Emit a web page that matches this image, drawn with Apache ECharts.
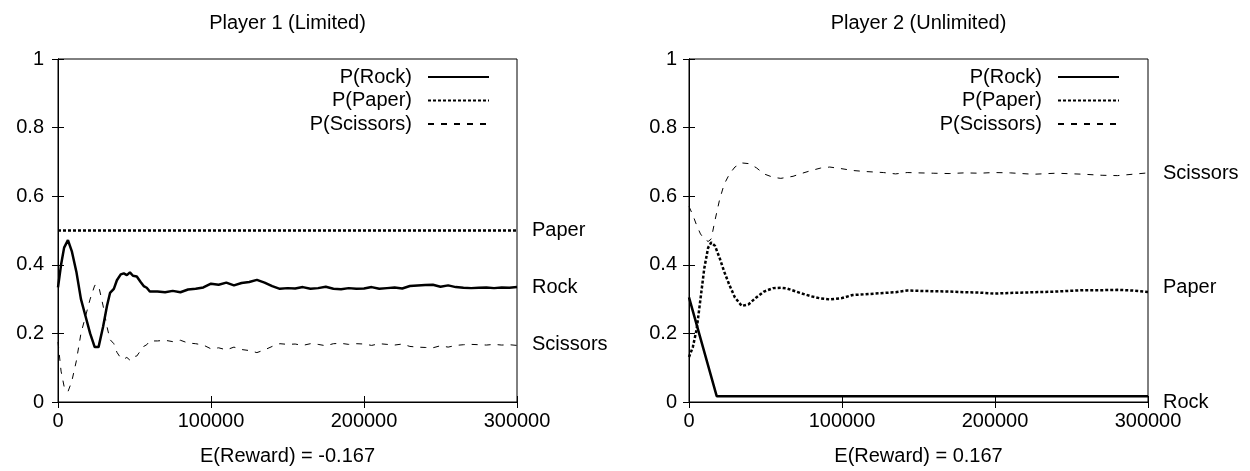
<!DOCTYPE html>
<html><head><meta charset="utf-8">
<script src="https://cdn.jsdelivr.net/npm/echarts@6/dist/echarts.min.js"></script>
<style>html,body{margin:0;padding:0;background:#fff}#c{width:1250px;height:471px}</style>
</head><body><div id="c"></div>
<script>
// ---------- data ----------
const seriesNames = ['P(Rock)', 'P(Paper)', 'P(Scissors)'];
const titles = ['Player 1 (Limited)', 'Player 2 (Unlimited)'];
const xTitles = ['E(Reward) = -0.167', 'E(Reward) = 0.167'];
const xTicks = [0, 100000, 200000, 300000];
const yTicks = [0, 0.2, 0.4, 0.6, 0.8, 1];

// Player 1
const p1X = [0,2000,4000,6500,9000,12000,15000,18000,21000,24000,26500,29500,32000,34000,36500,38500,41000,43000,45000,47000,49000,51500,54000,56000,58000,60000,
  65000,70000,75000,80000,85000,90000,95000,100000,105000,110000,115000,120000,125000,130000,135000,140000,145000,150000,155000,160000,165000,170000,175000,180000,
  185000,190000,195000,200000,205000,210000,215000,220000,225000,230000,235000,240000,245000,250000,255000,260000,265000,270000,275000,280000,285000,290000,295000,300000];
const p1Rock = [0.334,0.40,0.45,0.472,0.44,0.38,0.30,0.25,0.20,0.160,0.160,0.22,0.28,0.318,0.33,0.355,0.372,0.375,0.370,0.378,0.368,0.366,0.350,0.338,0.333,0.322,
  0.322,0.320,0.324,0.320,0.328,0.330,0.334,0.345,0.342,0.348,0.340,0.347,0.350,0.356,0.348,0.338,0.330,0.332,0.331,0.335,0.330,0.332,0.336,0.330,
  0.329,0.332,0.330,0.331,0.335,0.330,0.332,0.334,0.331,0.338,0.340,0.341,0.342,0.336,0.340,0.335,0.333,0.332,0.333,0.334,0.332,0.334,0.333,0.335];
const p1Scissors = [0.175,0.09,0.045,0.03,0.06,0.12,0.20,0.25,0.30,0.340,0.340,0.28,0.22,0.182,0.17,0.145,0.128,0.125,0.130,0.122,0.132,0.134,0.150,0.162,0.167,0.178,
  0.178,0.180,0.176,0.180,0.172,0.170,0.166,0.155,0.158,0.152,0.160,0.153,0.150,0.144,0.152,0.162,0.170,0.168,0.169,0.165,0.170,0.168,0.164,0.170,
  0.171,0.168,0.170,0.169,0.165,0.170,0.168,0.166,0.169,0.162,0.160,0.159,0.158,0.164,0.160,0.165,0.167,0.168,0.167,0.166,0.168,0.166,0.167,0.165];
const p1PaperX = [0, 300000];
const p1Paper = [0.5, 0.5];
const p1EndValues = [0.5, 0.333, 0.167];
const p1EndLabels = ['Paper', 'Rock', 'Scissors'];

// Player 2
const p2RockX = [0, 18100, 300000];
const p2Rock = [0.305, 0.017, 0.017];
const p2X = [0,2500,5000,7500,10000,12500,14500,17000,20000,23000,26500,30000,34500,39000,44000,49000,55000,60000,64000,68000,72600,80000,86000,92000,100000,
  107000,115000,127000,135000,142600,150000,160000,170000,180000,190000,199000,210000,225000,240000,258000,270000,280000,290000,300000];
const p2Paper = [0.131,0.16,0.212,0.30,0.39,0.45,0.465,0.455,0.42,0.38,0.34,0.305,0.28,0.285,0.305,0.322,0.332,0.333,0.331,0.325,0.318,0.308,0.302,0.299,0.303,
  0.312,0.314,0.318,0.32,0.325,0.324,0.323,0.322,0.32,0.319,0.316,0.318,0.32,0.322,0.326,0.326,0.327,0.325,0.321];
const p2Scissors = [0.57,0.545,0.515,0.49,0.475,0.468,0.475,0.53,0.59,0.635,0.665,0.685,0.697,0.695,0.683,0.665,0.655,0.652,0.655,0.658,0.665,0.675,0.682,0.685,0.68,
  0.675,0.672,0.669,0.665,0.669,0.668,0.667,0.666,0.668,0.667,0.669,0.668,0.664,0.667,0.664,0.661,0.66,0.664,0.668];
const p2EndValues = [0.667, 0.333, 0];
const p2EndLabels = ['Scissors', 'Paper', 'Rock'];

// ---------- chart ----------
const FONT = "'Liberation Sans', Arial, Helvetica, sans-serif";
const FS = 20;
const zip = (xs, ys) => xs.map((x, i) => [x, ys[i]]);
const styles = {
  'P(Rock)': { color: '#000', width: 2.5, type: 'solid' },
  'P(Paper)': { color: '#000', width: 2.5, type: [3, 2] },
  'P(Scissors)': { color: '#000', width: 1, type: [6, 7] }
};

const grids = [
  { left: 58, right: 733, top: 59, bottom: 68, show: true, borderColor: '#000', borderWidth: 1, backgroundColor: '#fff' },
  { left: 689, right: 102, top: 59, bottom: 68, show: true, borderColor: '#000', borderWidth: 1, backgroundColor: '#fff' }
];

function bottomX(g, name) {
  return {
    type: 'value', gridIndex: g, position: 'bottom', min: 0, max: 300000, interval: 100000,
    name: name, nameLocation: 'middle', nameGap: 44,
    nameTextStyle: { fontFamily: FONT, fontSize: FS, color: '#000' },
    axisLine: { show: true, lineStyle: { color: '#000', width: 1 } },
    axisTick: { show: true, inside: true, length: 6, customValues: xTicks, lineStyle: { color: '#000' } },
    axisLabel: { fontFamily: FONT, fontSize: FS, color: '#000', margin: 9, customValues: xTicks, formatter: v => String(v) },
    splitLine: { show: false }
  };
}
function topX(g, name) {
  return {
    type: 'value', gridIndex: g, position: 'top', min: 0, max: 300000, interval: 100000,
    name: name, nameLocation: 'middle', nameGap: 26,
    nameTextStyle: { fontFamily: FONT, fontSize: FS, color: '#000' },
    axisLine: { show: true, lineStyle: { color: '#000', width: 1 } },
    axisTick: { show: true, inside: true, length: 6, customValues: xTicks, lineStyle: { color: '#000' } },
    axisLabel: { show: false },
    splitLine: { show: false }
  };
}
function leftY(g, margin) {
  return {
    type: 'value', gridIndex: g, position: 'left', min: 0, max: 1, interval: 0.2,
    axisLine: { show: true, lineStyle: { color: '#000', width: 1 } },
    axisTick: { show: true, inside: true, length: 6, customValues: yTicks, lineStyle: { color: '#000' } },
    axisLabel: { fontFamily: FONT, fontSize: FS, color: '#000', margin: margin, customValues: yTicks, formatter: v => String(v) },
    splitLine: { show: false }
  };
}
function rightY(g, vals, labels) {
  return {
    type: 'value', gridIndex: g, position: 'right', min: 0, max: 1, interval: 0.2,
    axisLine: { show: true, lineStyle: { color: '#000', width: 1 } },
    axisTick: { show: true, inside: true, length: 6, customValues: yTicks, lineStyle: { color: '#000' } },
    axisLabel: {
      fontFamily: FONT, fontSize: FS, color: '#000', margin: 15, align: 'left',
      customValues: vals, showMinLabel: true, showMaxLabel: true,
      formatter: v => { const i = vals.findIndex(t => Math.abs(t - v) < 1e-6); return i >= 0 ? labels[i] : ''; }
    },
    splitLine: { show: false }
  };
}

function line(name, xi, yi, data) {
  const s = styles[name];
  return {
    name, type: 'line', xAxisIndex: xi, yAxisIndex: yi, data,
    symbol: 'none', showSymbol: false, silent: true, animation: false,
    lineStyle: { color: s.color, width: s.width, type: s.type },
    itemStyle: { color: s.color }
  };
}

function legend(rightPx) {
  return {
    data: seriesNames, orient: 'vertical', align: 'right', right: rightPx, top: 67,
    padding: 0,
    itemWidth: 61, itemHeight: 20, itemGap: 3.5,
    itemStyle: { opacity: 0 },
    textStyle: { fontFamily: FONT, fontSize: FS, color: '#000', padding: [0, 11, 0, 0] },
    backgroundColor: 'rgba(0,0,0,0)', selectedMode: false
  };
}

const option = {
  animation: false,
  backgroundColor: '#fff',
  textStyle: { fontFamily: FONT },
  grid: grids,
  legend: [legend(760), legend(130)],
  xAxis: [bottomX(0, xTitles[0]), topX(0, titles[0]), bottomX(1, xTitles[1]), topX(1, titles[1])],
  yAxis: [leftY(0, 14), rightY(0, p1EndValues, p1EndLabels), leftY(1, 12), rightY(1, p2EndValues, p2EndLabels)],
  series: [
    line('P(Rock)', 0, 0, zip(p1X, p1Rock)),
    line('P(Paper)', 0, 0, zip(p1PaperX, p1Paper)),
    line('P(Scissors)', 0, 0, zip(p1X, p1Scissors)),
    line('P(Rock)', 2, 2, zip(p2RockX, p2Rock)),
    line('P(Paper)', 2, 2, zip(p2X, p2Paper)),
    line('P(Scissors)', 2, 2, zip(p2X, p2Scissors))
  ]
};
const chart = echarts.init(document.getElementById('c'), null, { renderer: 'canvas' });
chart.setOption(option);
</script>
</body></html>
